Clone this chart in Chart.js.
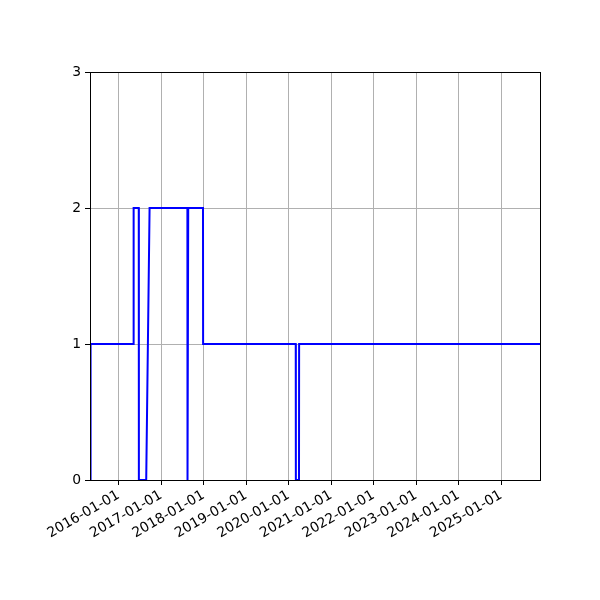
<!DOCTYPE html>
<html>
<head>
<meta charset="utf-8">
<script src="https://cdn.jsdelivr.net/npm/chart.js@4/dist/chart.umd.min.js"></script>
<style>
    body { margin: 0; background: #fff; }
    #chart { display: block; }
</style>
</head>
<body>
<canvas id="chart" width="600" height="600"></canvas>
<script>
// series: date of each point and its value
const dates = [
    "2015-05-05", "2015-05-06", "2016-05-09", "2016-05-10", "2016-06-23",
    "2016-06-24", "2016-08-26", "2016-09-24", "2017-08-15", "2017-08-16",
    "2017-08-22", "2017-12-27", "2017-12-28", "2020-03-03", "2020-03-04",
    "2020-03-31", "2020-04-01", "2025-12-01"
];
const values = [0, 1, 1, 2, 2, 0, 0, 2, 2, 0, 2, 2, 1, 1, 0, 0, 1, 1];

const xStart = "2015-05-01";
const xEnd = "2025-12-01";
const xTickDates = [
    "2016-01-01", "2017-01-01", "2018-01-01", "2019-01-01", "2020-01-01",
    "2021-01-01", "2022-01-01", "2023-01-01", "2024-01-01", "2025-01-01"
];
const yTicks = [0, 1, 2, 3];

function toTime(s) {
    return Date.parse(s + "T00:00:00Z");
}

function formatDate(t) {
    return new Date(t).toISOString().slice(0, 10);
}

const points = dates.map((d, i) => ({ x: toTime(d), y: values[i] }));

const font = { family: "DejaVu Sans", size: 13.9 };

// matplotlib-like box around the plot area
const frame = {
    id: "frame",
    afterDraw(chart) {
        const a = chart.chartArea;
        const ctx = chart.ctx;
        ctx.save();
        ctx.strokeStyle = "#000";
        ctx.lineWidth = 1;
        ctx.strokeRect(Math.round(a.left) + 0.5, Math.round(a.top) + 0.5,
            Math.round(a.right - a.left), Math.round(a.bottom - a.top));
        ctx.restore();
    }
};

new Chart(document.getElementById("chart"), {
    type: "line",
    data: {
        datasets: [{
            data: points,
            borderColor: "#0000ff",
            borderWidth: 2,
            pointRadius: 0,
            tension: 0,
            fill: false
        }]
    },
    options: {
        responsive: false,
        animation: false,
        layout: { padding: { top: 72, right: 60, left: 0, bottom: 0 } },
        plugins: {
            legend: { display: false },
            tooltip: { enabled: false }
        },
        scales: {
            x: {
                type: "linear",
                min: toTime(xStart),
                max: toTime(xEnd),
                afterBuildTicks: function (scale) {
                    scale.ticks = xTickDates.map(d => ({ value: toTime(d) }));
                },
                afterFit: function (scale) {
                    scale.height = 120;
                },
                ticks: {
                    autoSkip: false,
                    minRotation: 30,
                    maxRotation: 30,
                    color: "#000",
                    font: font,
                    padding: 2,
                    callback: function (value) {
                        return formatDate(value);
                    }
                },
                grid: {
                    color: "#b0b0b0",
                    lineWidth: 1,
                    tickColor: "#000",
                    tickLength: 5
                },
                border: { display: false }
            },
            y: {
                min: 0,
                max: 3,
                afterBuildTicks: function (scale) {
                    scale.ticks = yTicks.map(v => ({ value: v }));
                },
                afterFit: function (scale) {
                    scale.width = 90;
                },
                ticks: {
                    color: "#000",
                    font: font,
                    padding: 4
                },
                grid: {
                    color: "#b0b0b0",
                    lineWidth: 1,
                    tickColor: "#000",
                    tickLength: 5
                },
                border: { display: false }
            }
        }
    },
    plugins: [frame]
});
</script>
</body>
</html>
